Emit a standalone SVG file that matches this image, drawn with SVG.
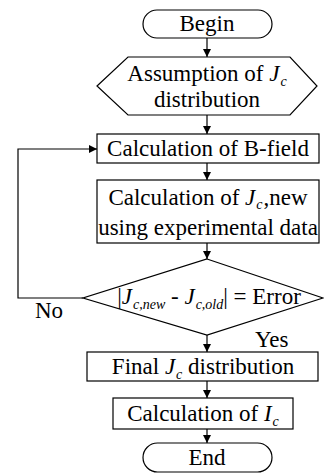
<svg xmlns="http://www.w3.org/2000/svg" width="324" height="474" viewBox="0 0 324 474">
<defs>
<marker id="ah" viewBox="0 0 10 10" refX="10" refY="5" markerWidth="8" markerHeight="8" markerUnits="userSpaceOnUse" orient="auto">
<path d="M0,0 L10,5 L0,10 z" fill="#000"/>
</marker>
<style>
.s{fill:#fff;stroke:#000;stroke-width:1.2}
.t{font-family:"Liberation Serif","Times New Roman",serif;font-size:23px;fill:#000;text-anchor:middle}
.l{font-family:"Liberation Serif","Times New Roman",serif;font-size:23px;fill:#000}
.i{font-style:italic}
.sub{font-style:italic;font-size:14px}
.c{fill:none;stroke:#000;stroke-width:1.2;marker-end:url(#ah)}
</style>
</defs>
<rect width="324" height="474" fill="#fff"/>
<g id="connectors">
<line class="c" x1="207" y1="38" x2="207" y2="57"/>
<line class="c" x1="207" y1="115" x2="207" y2="134"/>
<line class="c" x1="207" y1="163" x2="207" y2="180"/>
<line class="c" x1="207" y1="243" x2="207" y2="259"/>
<line class="c" x1="207" y1="335" x2="207" y2="352"/>
<line class="c" x1="207" y1="381" x2="207" y2="398"/>
<line class="c" x1="207" y1="429" x2="207" y2="443"/>
<polyline class="c" points="83,298 18,298 18,149 97,149"/>
<text class="l" x="35" y="318">No</text>
<text class="l" x="255" y="347">Yes</text>
</g>
<g id="begin">
<rect class="s" x="143" y="10" width="129" height="28" rx="14"/>
<text class="t" x="207" y="31">Begin</text>
</g>
<g id="assume">
<polygon class="s" points="97,86 128,57 290,57 317,86 290,115 128,115"/>
<text class="t" x="207" y="81">Assumption of <tspan class="i">J</tspan><tspan class="sub" dx="1" dy="5">c</tspan></text>
<text class="t" x="207" y="107">distribution</text>
</g>
<g id="bfield">
<rect class="s" x="97" y="134" width="222" height="29"/>
<text class="t" x="208" y="156">Calculation of B-field</text>
</g>
<g id="jcnew">
<rect class="s" x="97" y="180" width="222" height="63"/>
<text class="t" x="208" y="205">Calculation of <tspan class="i">J</tspan><tspan class="sub" dx="1" dy="4">c</tspan><tspan dx="1" dy="-4">,new</tspan></text>
<text class="t" x="208" y="235">using experimental data</text>
</g>
<g id="decision">
<polygon class="s" points="207,259 323,298 207,335 83,298"/>
<text class="t" x="209" y="304">|<tspan class="i">J</tspan><tspan class="sub" dx="1" dy="5">c,new</tspan><tspan dy="-5"> - </tspan><tspan class="i">J</tspan><tspan class="sub" dx="1" dy="5">c,old</tspan><tspan dy="-5">| = Error</tspan></text>
</g>
<g id="final">
<rect class="s" x="87" y="352" width="231" height="29"/>
<text class="t" x="203" y="374">Final <tspan class="i">J</tspan><tspan class="sub" dx="1" dy="5">c</tspan><tspan dy="-5"> distribution</tspan></text>
</g>
<g id="ic">
<rect class="s" x="113" y="398" width="180" height="31"/>
<text class="t" x="203" y="421">Calculation of <tspan class="i">I</tspan><tspan class="sub" dx="1" dy="5">c</tspan></text>
</g>
<g id="end">
<rect class="s" x="143" y="443" width="129" height="29" rx="14.5"/>
<text class="t" x="207" y="465">End</text>
</g>
</svg>
